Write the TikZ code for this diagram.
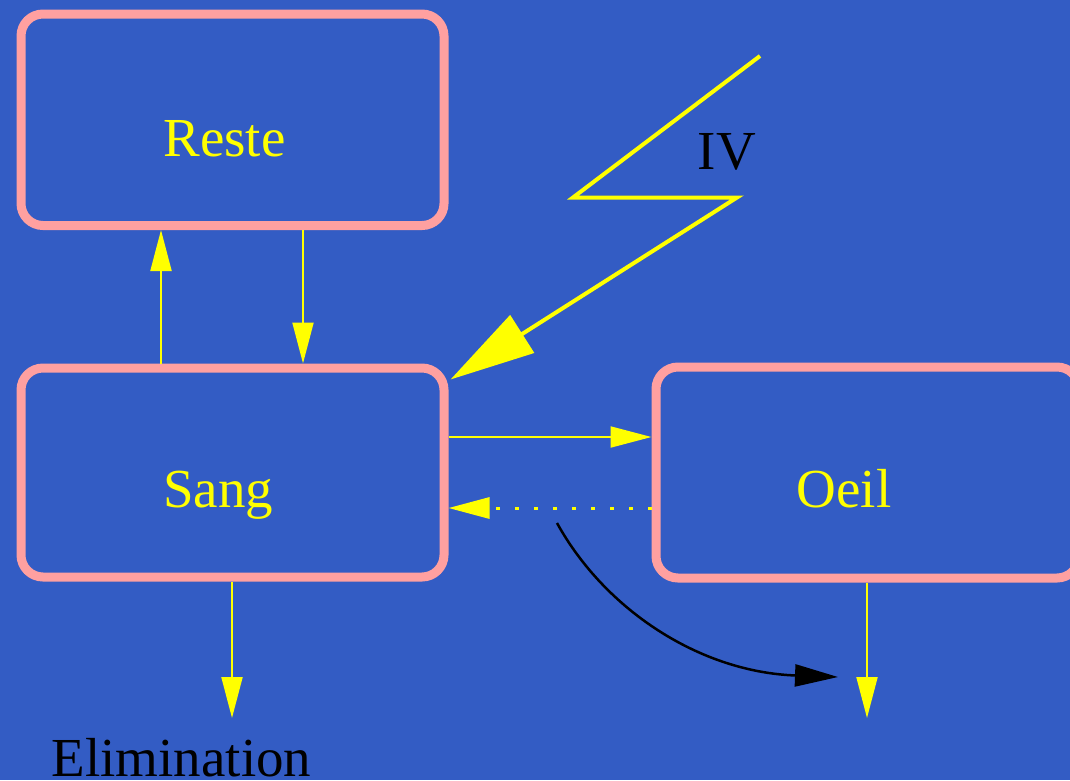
\documentclass[tikz,border=0pt]{standalone}
\usepackage{fontspec}
\setmainfont{Liberation Serif}
\usetikzlibrary{arrows.meta,calc}
\definecolor{bg}{RGB}{51,92,196}
\definecolor{pinkb}{RGB}{255,160,160}
\definecolor{yel}{RGB}{255,255,0}
\tikzset{
  compbox/.style={draw=pinkb, line width=9pt, rounded corners=22pt, rectangle, inner sep=0pt, outer sep=4.5pt},
  lbl/.style={anchor=base, text=yel, inner sep=0pt, font=\fontsize{55}{60}\selectfont},
  blbl/.style={anchor=base, text=black, inner sep=0pt, font=\fontsize{55}{60}\selectfont},
  flow/.style={draw=yel, line width=2pt, -{Triangle[length=41pt,width=21pt]}},
  ret/.style={draw=yel, line width=3pt, dash pattern=on 4pt off 15pt, -{Triangle[length=41pt,width=21pt]}},
  inj/.style={draw=yel, line width=4pt, line join=miter, -{Triangle[length=85pt,width=44pt]}},
  curv/.style={draw=black, line width=2.5pt, -{Triangle[length=43pt,width=22pt]}}
}
\begin{document}
\begin{tikzpicture}[x=1pt,y=-1pt]
\fill[bg] (0,0) rectangle (1070,780);
\useasboundingbox (0,0) rectangle (1070,780);
% boxes
\node[compbox, minimum width=423pt, minimum height=211.5pt] (reste) at (232.5,119.75) {};
\node[compbox, minimum width=423pt, minimum height=209pt] (sang) at (232.5,472.5) {};
\node[compbox, minimum width=423pt, minimum height=211pt] (oeil) at (867.5,472.5) {};
% labels
\node[lbl] (tr) at (224.5,156) {Reste};
\node[lbl] (ts) at (218,507) {Sang};
\node[lbl] (to) at (844,507) {Oeil};
\node[blbl] (tiv) at (727,169) {IV};
\node[blbl] (telim) at (181.5,776) {Elimination};
% connectors
\draw[flow] (sang.north -| 161,0) -- (reste.south -| 161,0);
\draw[flow] (reste.south -| 303,0) -- (sang.north -| 303,0);
\draw[flow] (sang.east |- 0,437) -- (oeil.west |- 0,437);
\draw[ret] (oeil.west |- 0,508) -- (sang.east |- 0,508);
\coordinate (elimend) at (232,718);
\coordinate (oeilend) at (867,718);
\draw[flow] (sang.south -| 232,0) -- (elimend);
\draw[flow] (oeil.south -| 867,0) -- (oeilend);
% black curved arrow
\coordinate (cstart) at (557,523);
\coordinate (cend) at (838,677);
\draw[curv] (cstart) .. controls (605,610) and (700,672) .. (cend);
% IV lightning injection
\coordinate (ivtop) at (760,56);
\coordinate (ivtip) at ($(sang.north east)+(2,16)$);
\draw[inj] (ivtop) -- (573,197.5) -- (737,197.5) -- (ivtip);
\end{tikzpicture}
\end{document}
